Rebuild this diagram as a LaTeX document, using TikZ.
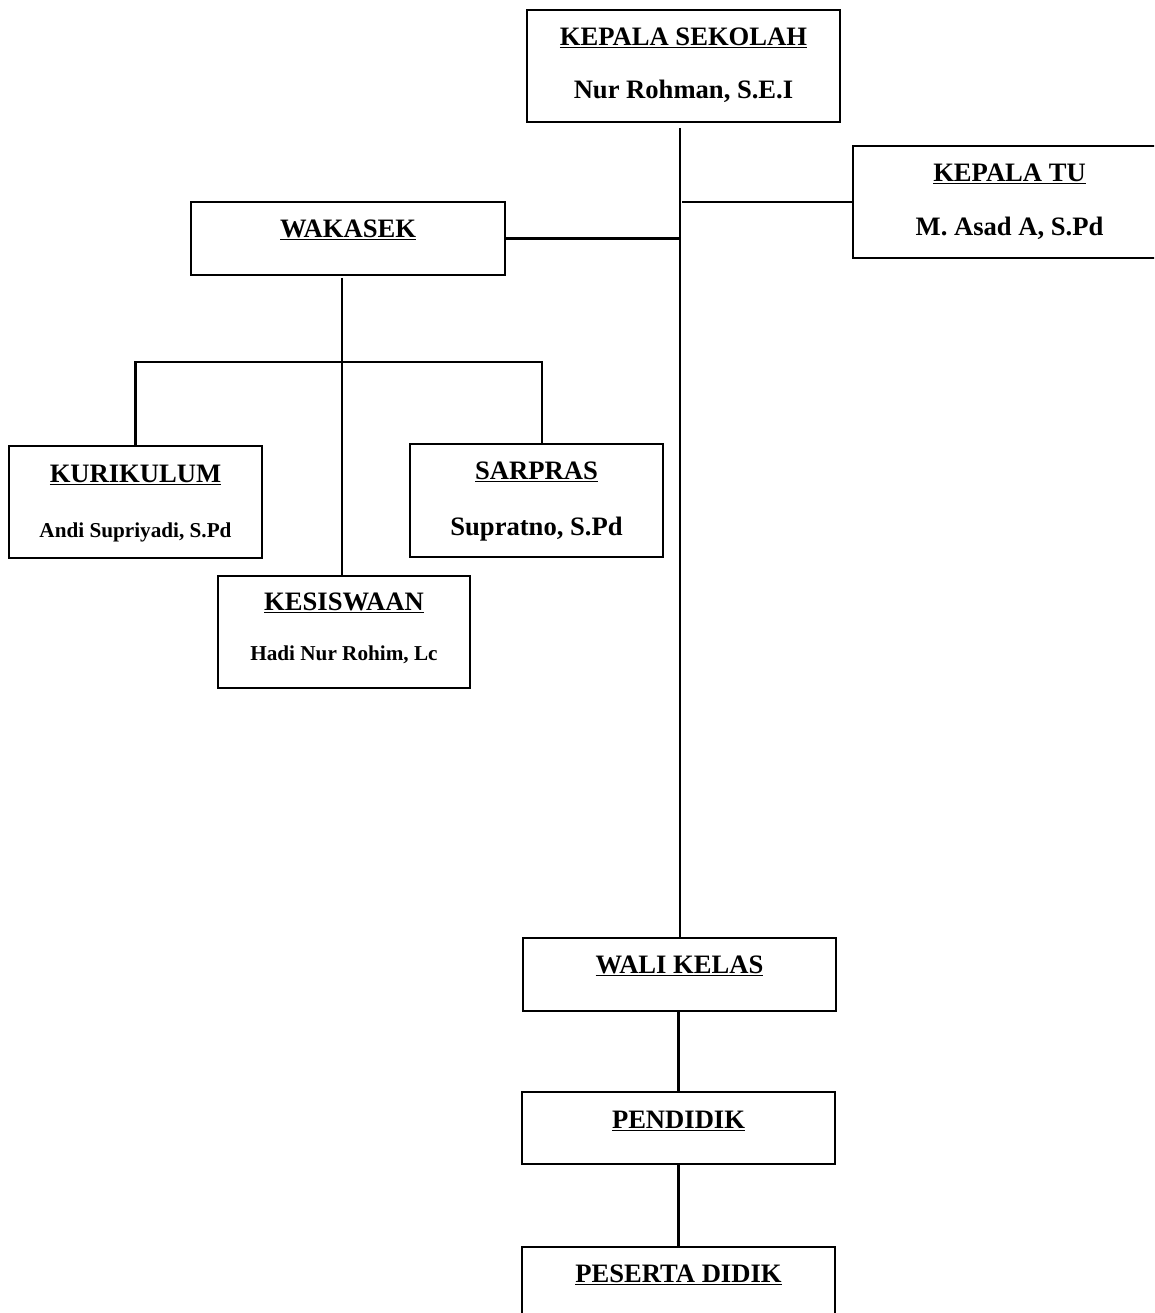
\documentclass[tikz,border=0pt]{standalone}
\usepackage{fontspec}
\setmainfont{Liberation Serif}
\begin{document}
\begin{tikzpicture}[x=1pt,y=-1pt,
    kotak/.style={draw, line width=2.8pt, minimum width=313pt, minimum height=112pt, inner sep=0pt},
    kotakkecil/.style={kotak, minimum width=253pt},
    kotakpendek/.style={kotak, minimum height=73pt},
    judul/.style={anchor=base, inner sep=0pt, font=\fontsize{26.6}{32}\selectfont\bfseries},
    nama/.style={judul},
    namakecil/.style={anchor=base, inner sep=0pt, font=\fontsize{21.2}{26}\selectfont\bfseries},
    garis/.style={line width=2.2pt}]
  \useasboundingbox (0,0) rectangle (1154,1313);
  \clip (0,0) rectangle (1154,1313);

  % kepala sekolah dan kepala tu
  \node[kotak] (ks) at (683.5,66) {};
  \node[judul] (ksJudul) at ([yshift=-37pt]ks.north) {\underline{KEPALA SEKOLAH}};
  \node[nama] (ksNama) at ([yshift=-90pt]ks.north) {Nur Rohman, S.E.I};

  \node[kotak] (ktu) at (1009.5,202) {};
  \node[judul] (ktuJudul) at ([yshift=-37pt]ktu.north) {\underline{KEPALA TU}};
  \node[nama] (ktuNama) at ([yshift=-91pt]ktu.north) {M. Asad A, S.Pd};

  % wakasek dan bidangnya
  \node[kotakpendek, minimum width=314pt] (wak) at (348,238.5) {};
  \node[judul] (wakJudul) at ([yshift=-37pt]wak.north) {\underline{WAKASEK}};

  \node[kotakkecil] (kur) at (135.5,502) {};
  \node[judul] (kurJudul) at ([yshift=-38pt]kur.north) {\underline{KURIKULUM}};
  \node[namakecil] (kurNama) at ([yshift=-93pt]kur.north) {Andi Supriyadi, S.Pd};

  \node[kotakkecil, minimum height=113pt] (sar) at (536.5,500.5) {};
  \node[judul] (sarJudul) at ([yshift=-37pt]sar.north) {\underline{SARPRAS}};
  \node[nama] (sarNama) at ([yshift=-93pt]sar.north) {Supratno, S.Pd};

  \node[kotakkecil, minimum width=252pt] (kes) at (344,632) {};
  \node[judul] (kesJudul) at ([yshift=-36pt]kes.north) {\underline{KESISWAAN}};
  \node[namakecil] (kesNama) at ([yshift=-86pt]kes.north) {Hadi Nur Rohim, Lc};

  % bagian bawah
  \node[kotakpendek] (wali) at (679.5,974.5) {};
  \node[judul] (waliJudul) at ([yshift=-37pt]wali.north) {\underline{WALI KELAS}};

  \node[kotakpendek, minimum height=72pt] (pend) at (678.5,1128) {};
  \node[judul] (pendJudul) at ([yshift=-38pt]pend.north) {\underline{PENDIDIK}};

  \node[kotakpendek] (pes) at (678.5,1283.5) {};
  \node[judul] (pesJudul) at ([yshift=-37pt]pes.north) {\underline{PESERTA DIDIK}};

  % garis
  \coordinate (pusat) at (680,128);
  \coordinate (wakBawah) at (342,278);
  \coordinate (cabang) at (342,362);
  \draw[garis] (pusat) -- (pusat |- wali.north);
  \draw[garis] (ktu.west) -- ([xshift=2pt]ktu.west -| pusat);
  \draw[garis] (wak.east) -- (wak.east -| pusat);
  \draw[garis] (wakBawah) -- (wakBawah |- kes.north);
  \draw[garis] (kur.north) |- (cabang) -| ([xshift=5.5pt]sar.north);
  \draw[garis] (pend.north |- wali.south) -- (pend.north);
  \draw[garis] (pend.south) -- (pes.north);
\end{tikzpicture}
\end{document}
